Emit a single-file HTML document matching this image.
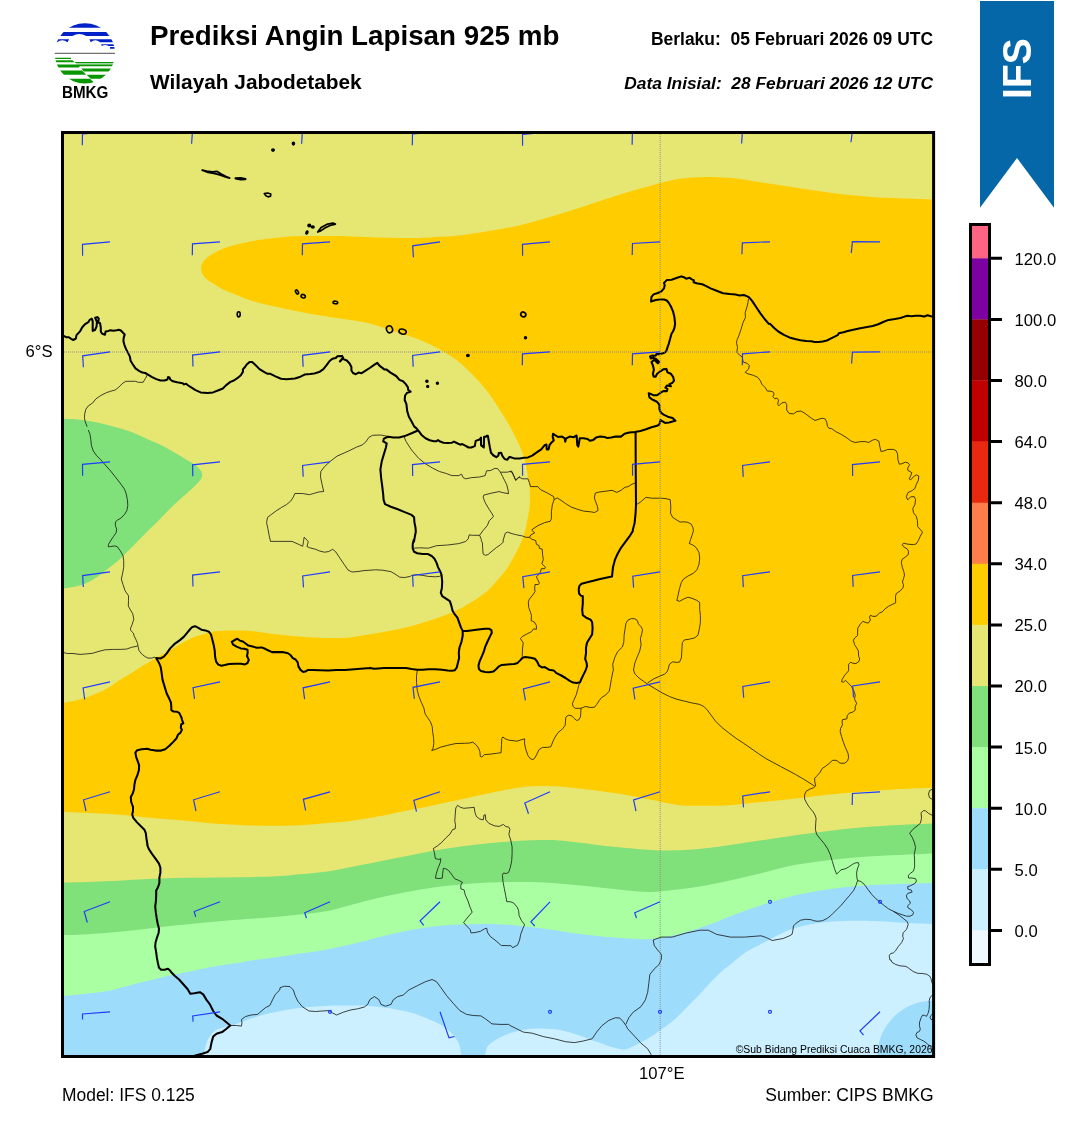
<!DOCTYPE html>
<html lang="id"><head><meta charset="utf-8"><title>Prediksi Angin Lapisan 925 mb</title>
<style>html,body{margin:0;padding:0;background:#fff;overflow:hidden}svg{display:block}text{font-family:"Liberation Sans",sans-serif;white-space:pre}</style></head><body>
<svg width="1081" height="1128" viewBox="0 0 1081 1128">
<rect width="1081" height="1128" fill="#fff"/>
<g transform="translate(40 10) scale(0.0925)">
<defs><clipPath id="lc"><circle cx="485" cy="468" r="326"/></clipPath></defs>
<g clip-path="url(#lc)">
<path fill="#0020c8" d="M100 100H900V192H100Z"/>
<path fill="#0020c8" d="M100 237H900V282H500Q425 235 350 282H100Z"/>
<path fill="#0020c8" d="M100 315H315L298 348Q240 305 185 348H100Z"/>
<path fill="#0020c8" d="M535 315H900V348H650Q595 305 548 348Z"/>
<path fill="#0020c8" d="M662 370H900V390H740Q705 365 668 390Z"/>
<path fill="#0020c8" d="M757 400H900V420H757Z"/>
<path fill="#707070" d="M100 462H900V475H100Z"/>
<path fill="#089600" d="M100 515H335V529H100Z"/>
<path fill="#089600" d="M100 543H350L375 565H100Z"/>
<path fill="#089600" d="M375 562H900V575H388Z"/>
<path fill="#9ad29a" d="M388 575H900V590H400Z"/>
<path fill="#089600" d="M100 590H900V608H430L420 622H100Z"/>
<path fill="#089600" d="M445 632H900V665H475Z"/>
<path fill="#089600" d="M100 655H455L500 700H100Z"/>
<path fill="#089600" d="M505 700H900V742H548Z"/>
<path fill="#089600" d="M100 742H540L582 780L560 800H100Z"/>
</g></g>
<text x="62" y="97.8" font-weight="bold" font-size="16.2" textLength="46.4" lengthAdjust="spacingAndGlyphs">BMKG</text>
<text x="150" y="45.1" font-weight="bold" font-size="27.78">Prediksi Angin Lapisan 925 mb</text>
<text x="150" y="88.8" font-weight="bold" font-size="20.83">Wilayah Jabodetabek</text>
<text x="933" y="45.2" text-anchor="end" font-weight="bold" font-size="17.44" xml:space="preserve">Berlaku:  05 Februari 2026 09 UTC</text>
<text x="933" y="88.7" text-anchor="end" font-weight="bold" font-style="italic" font-size="17.36" xml:space="preserve">Data Inisial:  28 Februari 2026 12 UTC</text>
<path d="M980 1H1054V207.8L1017 158L980 207.8Z" fill="#0667a8"/>
<text transform="translate(1031.2 98.9) rotate(-90)" font-weight="bold" font-size="40.3" textLength="60.6" lengthAdjust="spacingAndGlyphs" fill="#fff">IFS</text>
<rect x="970.5" y="224.5" width="19" height="34.1" fill="#ff6482"/>
<rect x="970.5" y="258.3" width="19" height="61.4" fill="#7d00a0"/>
<rect x="970.5" y="319.4" width="19" height="61.4" fill="#960000"/>
<rect x="970.5" y="380.5" width="19" height="61.4" fill="#c00000"/>
<rect x="970.5" y="441.6" width="19" height="61.4" fill="#e8280f"/>
<rect x="970.5" y="502.7" width="19" height="61.4" fill="#ff7d4b"/>
<rect x="970.5" y="563.8" width="19" height="61.4" fill="#ffcc00"/>
<rect x="970.5" y="624.9" width="19" height="61.4" fill="#e6e673"/>
<rect x="970.5" y="686" width="19" height="61.4" fill="#80e07a"/>
<rect x="970.5" y="747.1" width="19" height="61.4" fill="#aaffa3"/>
<rect x="970.5" y="808.2" width="19" height="61.4" fill="#9edcfc"/>
<rect x="970.5" y="869.3" width="19" height="61.4" fill="#ccf0ff"/>
<rect x="970.5" y="930.4" width="19" height="34.4" fill="#f0f8ff"/>
<rect x="970.5" y="224.5" width="19" height="740" fill="none" stroke="#000" stroke-width="3"/>
<path d="M989.5 258.3H1002M989.5 319.4H1002M989.5 380.5H1002M989.5 441.6H1002M989.5 502.7H1002M989.5 563.8H1002M989.5 624.9H1002M989.5 686H1002M989.5 747.1H1002M989.5 808.2H1002M989.5 869.3H1002M989.5 930.4H1002" stroke="#000" stroke-width="3" fill="none"/>
<g font-size="16.67" fill="#000">
<text x="1014.6" y="264.7">120.0</text>
<text x="1014.6" y="325.8">100.0</text>
<text x="1014.6" y="386.9">80.0</text>
<text x="1014.6" y="448">64.0</text>
<text x="1014.6" y="509.1">48.0</text>
<text x="1014.6" y="570.2">34.0</text>
<text x="1014.6" y="631.3">25.0</text>
<text x="1014.6" y="692.4">20.0</text>
<text x="1014.6" y="753.5">15.0</text>
<text x="1014.6" y="814.6">10.0</text>
<text x="1014.6" y="875.7">5.0</text>
<text x="1014.6" y="936.8">0.0</text>
</g>
<defs><clipPath id="mc"><rect x="62.5" y="132.5" width="871.1" height="924"/></clipPath></defs>
<g clip-path="url(#mc)">
<rect x="60" y="130" width="877" height="930" fill="#e6e673"/>
<path d="M224.1 290C222.4 289 216.9 285.8 214 284C211.1 282.2 208.6 281 206.7 279.3C204.8 277.6 203.5 275.9 202.6 274C201.7 272.1 201 270.1 201.1 268.1C201.2 266.1 201.6 264 203.2 261.8C204.8 259.6 207.2 257.2 210.8 254.9C214.4 252.6 218.9 250 224.7 247.9C230.5 245.8 238.6 243.9 245.5 242.4C252.4 240.9 259.4 239.8 266.3 238.9C273.2 238 280.2 237.3 287.1 236.8C294 236.3 299.1 236.2 307.9 236.1C316.7 236 333 236 340 236.1C347 236.2 339.1 236.1 350 236.4C360.9 236.7 391.7 237.9 405.5 238C419.3 238.1 423.8 237.7 433 237.2C442.2 236.7 451.7 236.2 461 235.2C470.3 234.2 479.6 232.5 488.8 231C498.1 229.5 507.2 228.1 516.5 226C525.8 223.9 535 221.1 544.3 218.5C553.5 215.9 562.8 213.1 572 210.2C581.2 207.3 590.5 204 599.8 201C609 198 619.1 194.7 627.5 192.2C635.9 189.7 641.6 188.2 650 186C658.4 183.8 668.5 180.6 677.8 179.1C687 177.6 696.2 177 705.5 176.9C714.8 176.8 724 177.4 733.3 178.3C742.5 179.2 751.8 181 761 182.4C770.2 183.8 779.5 185.2 788.8 186.6C798 188 807.2 189.5 816.5 190.8C825.8 192.1 835 193.4 844.3 194.4C853.5 195.4 862.8 196.2 872 196.9C881.2 197.6 889.1 197.9 899.8 198.3C910.5 198.8 930 199.4 936 199.6L936 787.6C930 787.8 910.5 788.4 899.8 789C889.1 789.6 881.2 790.3 872 791C862.8 791.7 853.5 792.4 844.3 793.2C835 794 825.8 795 816.5 796C807.2 797 798 798.3 788.8 799.3C779.5 800.3 770.2 801.2 761 802.1C751.8 803 742.5 804.3 733.3 804.9C724 805.5 714.8 805.7 705.5 805.7C696.2 805.7 687 805.9 677.8 804.9C668.5 803.9 658.4 801.2 650 799.6C641.6 798 635.9 796.6 627.5 795.2C619.1 793.8 609 792.2 599.8 791C590.5 789.8 581.2 788.5 572 787.7C562.8 786.9 552.3 786.1 544.3 786C536.3 785.9 530.5 786.3 523.9 787C517.3 787.7 511.6 788.8 504.8 790C498 791.2 491.5 792.7 483.3 794.4C475.1 796.1 464.8 798.4 455.5 800.4C446.2 802.4 437.1 804.5 427.8 806.4C418.6 808.3 408.3 810.2 400 811.9C391.7 813.6 386.1 815 377.8 816.5C369.5 818 358.4 819.9 350 821C341.6 822.1 335.9 822.3 327.5 823C319.1 823.7 309.1 824.8 299.8 825.2C290.6 825.7 281.2 825.7 272 825.7C262.8 825.7 253.6 825.5 244.3 825.2C235.1 824.9 225.8 824.5 216.5 823.8C207.2 823.1 198.1 821.8 188.8 821C179.6 820.2 170.2 819.6 161 818.8C151.8 818 142.6 816.8 133.3 816C124.1 815.2 117.7 814.5 105.5 813.8C93.3 813.1 67.6 812 60 811.6L60 703.5C63.9 702.7 75.7 700.9 83.3 698.5C90.9 696.1 99.5 692.2 105.5 689.2C111.5 686.2 114.8 683.2 119.4 680.3C124 677.4 130.2 674 133.3 672C136.5 670 135.2 670.5 138.3 668.5C141.4 666.5 147.5 662.9 152.1 660.2C156.7 657.6 161.4 655.3 166 652.6C170.6 649.9 175.3 646.8 179.9 644.2C184.5 641.7 189.6 639 193.8 637.3C198 635.6 201.8 634.7 205 633.8C208.2 632.9 210 632.2 213 631.7C216 631.2 218.9 631 222.8 630.8C226.7 630.6 232 630.6 236.6 630.6C241.2 630.6 245.9 630.6 250.5 631C255.1 631.4 259.8 632.1 264.4 632.7C269 633.3 273.7 634 278.3 634.5C282.9 635 287.5 635.5 292.1 635.9C296.7 636.3 301.4 636.7 306 637C310.6 637.3 315.3 637.5 319.9 637.7C324.5 637.9 328.8 638 333.8 638C338.8 638 342.7 638.2 350 637.4C357.3 636.6 368.6 634.7 377.8 633.1C387.1 631.5 397.6 629.5 405.5 627.6C413.4 625.8 418.9 623.9 424.9 622C430.9 620.1 435.6 618.8 441.6 616.5C447.6 614.2 454.1 611.9 461 608.2C467.9 604.5 477.2 598.9 483.2 594.3C489.2 589.7 492.9 585 497.1 580.4C501.3 575.8 503.9 573.4 508.2 566.5C512.5 559.6 519.1 548 522.6 538.8C526.1 529.5 527.8 518 529 511C530.2 504.1 529.9 501.7 529.9 497.1C529.9 492.5 530.1 490.2 529 483.3C527.9 476.4 526.4 464.4 523.5 455.5C520.6 446.6 515.3 436.8 511.9 430C508.5 423.2 506 419.9 503 415C500 410.1 496.9 405.1 493.9 400.7C490.9 396.3 488.4 392.6 485 388.5C481.6 384.4 478 380.3 473.8 376C469.6 371.7 464.5 366.6 459.9 362.8C455.3 359 450.6 356 446 353.1C441.4 350.2 436.7 347.8 432.1 345.5C427.5 343.2 422.9 341.2 418.3 339.3C413.7 337.4 409 335.9 404.4 334.4C399.8 332.9 395.1 331.7 390.5 330.2C385.9 328.7 381.2 326.8 376.6 325.4C372 324 367.4 322.8 362.8 321.9C358.2 321 353.7 320.5 348.9 319.8C344.1 319.1 340.9 318.6 333.8 317.5C326.7 316.4 315.2 314.6 306 312.9C296.8 311.2 287.6 309.4 278.3 307.3C269.1 305.2 257.6 302.5 250.5 300.4C243.4 298.3 238.4 295.7 236 294.8Z" fill="#ffcc00"/>
<path d="M60 418.8C63 418.9 72.5 418.9 77.8 419.4C83.1 419.9 87 420.8 91.6 421.6C96.2 422.4 100.9 423.3 105.5 424.4C110.1 425.5 114.8 426.9 119.4 428.3C124 429.7 128.7 431 133.3 432.8C137.9 434.6 142.5 436.9 147.1 438.9C151.7 440.9 156.4 442.7 161 445C165.6 447.3 170.3 450 174.9 452.7C179.5 455.4 185.1 458.7 188.8 461C192.5 463.3 194.9 464.5 197.1 466.6C199.3 468.7 201.6 471.2 202.1 473.5C202.6 475.8 202.1 477.5 199.9 480.5C197.7 483.5 193 487.7 188.8 491.6C184.6 495.5 179.5 499.6 174.9 504C170.3 508.4 165.6 513.4 161 518C156.4 522.6 151.7 527.2 147.1 531.8C142.5 536.4 137.9 541.1 133.3 545.7C128.7 550.3 124 555.4 119.4 559.6C114.8 563.8 110.1 567.2 105.5 570.7C100.9 574.2 96.2 577.9 91.6 580.4C87 582.9 83.1 584.6 77.8 586C72.5 587.4 63 588.4 60 588.9Z" fill="#80e07a"/>
<path d="M60 882.7C67.6 882.5 88.7 881.9 105.5 881.2C122.3 880.5 142.5 879 161 878.4C179.5 877.8 198 877.9 216.5 877.6C235 877.3 258.1 877 272 876.5C285.9 876 290.6 875.1 299.8 874.3C309.1 873.5 319.1 872.7 327.5 871.5C335.9 870.3 341.6 868.9 350 867.3C358.4 865.7 368.6 863.6 377.8 861.8C387.1 859.9 396.2 858.1 405.5 856.2C414.8 854.4 424.1 852.3 433.3 850.7C442.6 849.1 451.8 847.8 461 846.5C470.2 845.2 479.6 844.1 488.8 843.2C498.1 842.3 507.2 841.5 516.5 841C525.8 840.5 537 840.2 544.3 840.1C551.5 840 551.8 839.9 560 840.6C568.2 841.3 582.2 843.1 593.3 844.4C604.4 845.6 615.5 847.1 626.6 848.1C637.7 849.1 648.9 850.2 660 850.4C671.1 850.6 682.1 850.3 693.2 849.5C704.3 848.7 715.4 847 726.5 845.5C737.6 844 749.4 842.1 759.8 840.6C770.2 839.1 779.3 837.6 788.8 836.3C798.2 835 807.2 833.8 816.5 832.6C825.8 831.4 835 830 844.3 829C853.5 828 862.8 827.2 872 826.5C881.2 825.8 889.1 825.4 899.8 824.9C910.5 824.4 930 823.6 936 823.4L940 1062L56 1062Z" fill="#80e07a"/>
<path d="M60 934.9C63 934.9 70.2 935.1 77.8 934.8C85.4 934.5 96.2 933.9 105.5 933.1C114.8 932.4 124.1 931.3 133.3 930.3C142.6 929.3 151.8 928 161 927C170.2 926 179.6 925.1 188.8 924.2C198.1 923.3 207.2 922.3 216.5 921.5C225.8 920.7 235.1 919.9 244.3 919.2C253.6 918.5 262.8 918.1 272 917.3C281.2 916.5 290.6 915.6 299.8 914.5C309.1 913.4 319.1 912.4 327.5 910.9C335.9 909.4 341.6 907.4 350 905.2C358.4 903 368.6 900 377.8 897.9C387.1 895.8 396.2 894 405.5 892.3C414.8 890.6 424.1 888.9 433.3 887.6C442.6 886.3 451.8 885.3 461 884.5C470.2 883.7 479.6 883 488.8 882.6C498.1 882.2 507.2 882 516.5 882C525.8 882 535 882.1 544.3 882.6C553.5 883.1 562.8 884 572 884.8C581.2 885.6 590.5 886.7 599.8 887.6C609 888.5 619.1 889.7 627.5 890.4C635.9 891.1 641.6 892 650 891.9C658.4 891.8 668.5 890.6 677.8 889.5C687 888.4 696.2 887 705.5 885.4C714.8 883.8 724 881.8 733.3 879.8C742.5 877.8 751.8 875.6 761 873.3C770.2 871 779.5 868.1 788.8 866.2C798 864.3 807.2 863.1 816.5 861.8C825.8 860.5 835 859.4 844.3 858.5C853.5 857.6 862.8 856.8 872 856.2C881.2 855.6 889.1 855.4 899.8 854.9C910.5 854.4 930 853.6 936 853.4L940 1062L56 1062Z" fill="#aaffa3"/>
<path d="M60 996.5C67.6 995.6 93.3 993.3 105.5 991.3C117.7 989.3 124.1 986.6 133.3 984.3C142.6 982 151.8 979.5 161 977.4C170.2 975.3 180.5 973.5 188.8 971.8C197.1 970.1 202.7 968.5 211 967C219.3 965.5 232.3 963.8 238.8 962.8C245.3 961.8 243.1 961.7 250 960.7C256.9 959.7 271.3 957.9 280 956.7C288.7 955.5 294.6 954.4 302 953.3C309.4 952.2 317 951.3 324.4 950C331.8 948.7 339.2 947 346.6 945.3C354 943.6 363.6 941.3 368.8 940C374 938.7 371.7 939 377.8 937.5C383.9 936 396.2 932.8 405.5 931C414.8 929.2 424.1 927.7 433.3 926.6C442.6 925.5 451.8 925 461 924.6C470.2 924.2 479.6 924 488.8 924.1C498.1 924.2 507.2 924.7 516.5 925.5C525.8 926.3 535 927.5 544.3 928.8C553.5 930 562.8 931.8 572 933C581.2 934.2 590.5 935.4 599.8 936.3C609 937.2 619.1 938 627.5 938.5C635.9 939 641.6 939.7 650 939C658.4 938.3 668.5 936.6 677.8 934.4C687 932.2 696.2 929.2 705.5 926C714.8 922.8 724 918.4 733.3 914.9C742.5 911.4 751.8 908.2 761 905.2C770.2 902.2 779.5 899.2 788.8 896.9C798 894.6 807.2 892.9 816.5 891.3C825.8 889.7 835 888.2 844.3 887.2C853.5 886.2 862.8 885.5 872 885C881.2 884.5 889.1 884.2 899.8 883.9C910.5 883.6 930 883.1 936 883L940 1062L56 1062Z" fill="#9edcfc"/>
<path d="M203 1060C203.4 1057.8 204.2 1050.6 205.4 1046.6C206.6 1042.6 207.9 1038.9 210 1036C212.1 1033.1 214.3 1030.8 218 1029C221.7 1027.2 227.8 1026.8 232 1025.5C236.2 1024.2 240.2 1022.4 243.2 1021.3C246.2 1020.2 246.9 1019.8 249.8 1018.8C252.8 1017.8 257.2 1016.5 260.9 1015.5C264.6 1014.5 267.1 1013.8 272 1012.8C276.9 1011.8 285 1010.1 290 1009.3C295 1008.4 296.5 1008.3 302.2 1007.7C307.9 1007.1 317 1006.3 324.4 1005.9C331.8 1005.5 339.2 1005.5 346.6 1005.5C354 1005.5 361.4 1005.4 368.8 1005.9C376.2 1006.4 383.6 1007.2 391 1008.4C398.4 1009.6 405.8 1011 413.2 1013.3C420.6 1015.6 429.8 1019.5 435.4 1022.1C440.9 1024.7 443.2 1026.2 446.5 1028.8C449.8 1031.4 453.2 1034.7 455.4 1037.7C457.6 1040.7 458.8 1042.9 459.8 1046.6C460.8 1050.3 461.3 1057.8 461.6 1060Z" fill="#ccf0ff"/>
<path d="M484.7 1060C485 1058.1 485.5 1051.6 486.5 1048.8C487.5 1046 488.3 1045.2 490.9 1043.2C493.5 1041.2 498 1038.5 502 1036.6C506 1034.7 510 1033.1 515 1031.8C520 1030.5 525.6 1029.2 532.2 1028.8C538.8 1028.4 547 1028.4 554.4 1029.3C561.8 1030.2 569.2 1032.2 576.6 1034.4C584 1036.6 593.2 1040.6 598.8 1042.6C604.3 1044.6 606.2 1045.5 609.9 1046.6C613.6 1047.7 618 1048.8 621 1049.2C624 1049.6 624 1050.2 627.7 1048.8C631.4 1047.4 638.8 1043.4 643.2 1041C647.6 1038.6 650.6 1036.8 654.3 1034.4C658 1032 661.7 1029.4 665.4 1026.6C669.1 1023.8 672.8 1021 676.5 1017.7C680.2 1014.4 683.9 1010.3 687.6 1006.6C691.3 1002.9 695 999.4 698.7 995.5C702.4 991.6 706.1 987.2 709.8 983.3C713.5 979.4 717.2 975.5 720.9 972.2C724.6 968.9 728.1 966.4 732 963.3C735.9 960.1 739.6 956.5 744.4 953.3C749.2 950.1 753.6 948 761 944.1C768.4 940.2 779.5 933.7 788.8 930.2C798 926.7 807.2 924.8 816.5 923.3C825.8 921.8 835 921.4 844.3 921C853.5 920.6 862.8 920.8 872 921C881.2 921.2 889.1 921.9 899.8 922.4C910.5 922.9 930 923.9 936 924.2L940 1062Z" fill="#ccf0ff"/>
<path d="M877.4 1062C877.5 1060.7 877.5 1056.8 877.7 1054C877.9 1051.2 878.2 1047.8 878.6 1045.1C879 1042.4 879.5 1040.5 880.4 1038C881.3 1035.5 882.4 1032.8 883.9 1030.1C885.4 1027.4 887.4 1024.6 889.3 1022.1C891.2 1019.6 893.3 1017.1 895.5 1015C897.7 1012.9 900.2 1011.2 902.6 1009.7C905 1008.2 907.3 1006.8 909.7 1005.7C912.1 1004.6 914.4 1003.7 916.8 1003C919.2 1002.3 920.7 1001.9 923.9 1001.5C927.1 1001.1 934 1000.6 936 1000.4L940 1062Z" fill="#9edcfc"/>
<path d="M147.3 374.9L145.2 378.8L143.1 382.3L138.3 382.3L135.5 381.3L125.8 381.3L123 383L118.8 387.1L115.4 389.9L110.5 391.3L106.3 392.7L100.8 395.5L95.9 398.9L92.5 403.1L88.3 405.9L85.8 409.3L84.8 413.5L84.4 417.7L85.2 421.8L87.2 426.7M404 436.4L406.1 441.6L411.6 450L418.6 458.3L425.5 463.8L432.4 468L439.4 471.5L446.3 473.5L451.9 475.6L458.8 475.6L461.6 474.2L463.2 477.7L465.7 478.8L471.3 477.7L479.6 477L485.2 475.6L486.6 470.8L490.7 470.5L494.9 468.3L497.7 468.7L500.4 472.2L502.5 476.3L504.6 480.5L506.7 484.6L508.1 490.2L508.5 493.7L503.2 492.7L499 491.6L492.1 493L483.8 495.1L483.1 497.1L485.2 502.7L489.3 509.6L492.1 513.8L493.5 516.6L489.3 520.7L487.3 525.6L483.1 530.4L479.6 535.3L472.7 535.3L469.2 534.9L468.2 538.8L465.7 541.5L458.8 543.6L447.7 545L436.6 545.7L428.3 548.2L420 547.8L413.7 548.2M500.4 472.2L507.4 472.2L511.5 471L513.6 474.9L515.7 480.5L520 476.3M510 471.6L512.1 472.3L513.5 475.7L515.6 479.9L519 477.1L522.5 478.8L528 478.8L529.4 482.7L530.5 486.6L537.8 486.6L540.5 489.6L547.5 493.1L553.7 496.6L554.1 499.6L552.3 504.9L551.4 511.8L551.4 518.8L550.2 521.3L544.7 522.6L537.8 525.7L531.5 530M554.1 499.6L557.2 497.9L560 499.6L565.5 503.5L571.1 507L576.6 509L583.5 511.1L590.5 511.8L594.6 512.5L598.1 510.4L597.4 506.3L595.3 500.7L594.4 497.9L595.3 493.1L598.8 492.1L607.1 491L612 490.3L616.8 492.4L621 490.3L625.2 487.1L627.9 486.8L632.1 484.1L635.6 483M636 504.9L640.4 502.1L646 497.3L651.5 498.2L660 498.2M748.6 298.9L747.3 305.8L745.2 312.7L745.4 317.6L743.1 322.4L741 329.4L738.9 335.6L736.8 340.5L736.6 343.3L737.5 347.4L736.8 352.3L739.6 355.1L742.4 357.1L743.1 362L747.3 363.4L749.3 365.5L748.6 368.9L745.2 372.4L747.9 373.8L753.5 375.4L757.7 377.3L760.4 380.7L761.8 384.2L765.3 387.7L767.4 391.1L770 391.1L772.8 391.8L774.2 393.9L772.8 396.7L774.9 398.8L776.9 398.1L778.6 400.1L777.6 404.3L779 405.7L781.8 402.9L785.3 402.2L786.7 404.3L786.7 410L788.6 412.9L790 413.6L793.5 413.9L796.9 411.5L801.1 411.1L805.3 413.6L810.8 417.8L815 420.5L819.1 419.1L822.6 418.2L825.4 419.1L826.8 422.6L827.5 426.4L828.9 428.2L831.6 428.6L835.8 431.6L841.3 434.4L846.9 437.9L851.1 441.1L855.2 442.5L860.8 441.6L865.6 441.6L868.4 442.5L872.6 440.2L875.3 439.3L878.8 441.1L879.9 446.9L880.9 451.3L883.7 451.1L887.8 449.4L893.4 449.4L896.2 450.8L897.5 453.8L898 460.1L899.3 464.2L901.7 463.8L905.2 462.2L907.9 462.8L909.6 464.7L907.9 467.7L907.7 470.2L911.8 472.6L910.7 476L909.1 478.8L910.7 479.9L913.5 476.7L916.3 474.9L918.8 476L918.4 480.2L916.3 484.4L914.9 488.5L912.1 490.6L907.9 492.7L906.3 496.8L907.7 499.9L910.7 496.8L914.2 496.6L915.6 499.6L914.9 504.5L912.8 508.6L913.5 512.8L916.3 516.3L917.4 520.4L917.7 526.7L920.4 529.5L922.5 532.2L920.2 536.4L918.4 540.4L916.3 543.9L913.5 544.6L907.9 544.2L903.8 543.2L902.1 544.6L903.8 546.9L907.3 549.1L908.6 551.5L908.2 554.7L905.2 557.1L902.1 559.4L901.3 562.6L902.4 567.5L903.8 571.6L904.5 575.1L903.5 578.6L902.4 582L903.5 584.8L903.1 587.6L900.3 590.8L896.2 593.6L895.5 596.6L895.7 602.8L892.7 604.2L888.5 606.3L885.1 608.8L882.3 611.9L879.5 613L876 616.3L872.6 616.3L870.5 615.3L869.4 617.1L870.5 619.9L868.4 623L866.3 622.7L862.8 621.3L860.1 624.4L857.7 628.5L857.6 635.5L854.5 638.2L853.4 640.3L854.5 644.5L856.6 647.9L858.3 650.7L858.7 656.3L859.7 659L858.7 661.8L855.9 663.5L852.4 663.2L850.8 662.1L848.6 664.3L848.6 670.8L845.5 674.3L844.1 676.2L842 679.7L841.6 681.8L843.4 682.2L845.5 680.4L848.3 683.2L851.7 686.7L853.8 690.8L855.2 695L854.5 699.1L856.6 703.3L855.2 706.8L855.2 710.2L853.1 711.9L849 713.3L847.2 715.8L846.9 718.8L842.5 719.7L842 722L842.5 724.8L840.6 728.3L840.2 731.7L841.6 736.6L843.4 742.2L845.5 747.7L848 753.3L848.6 757.4L847.6 760.9L844.8 763.2L840 763.2L837.2 760.9L835.1 760.2L832.3 760.5L828.9 763.7L825.4 766.4L822.2 768.5L819.8 772.7L817.1 775.7L814.7 778.2L814.7 781L815.7 785.9L813.6 787.7L809.4 789.3L806 791.4L804.6 794.9L804.6 799L806.7 803.2L809.4 807.4L812.9 811.5L815 815L816.1 818.3L815.7 823.9L815.4 829.4L816.6 834.3L819.8 838.4L824 843.3L827.7 848.9L830.2 854.4L832.3 861.3L834.4 868.3L836.5 874.1L839.3 871.7L841.1 869.7L844.8 869L848.3 867.2L852.4 864.4L855.9 862.7L858.3 862.7L859 864.8L857.3 869L856.6 873.1L856.9 878L857.6 880.5L855.9 885.6L853.6 890.5L849.7 895.3L845.5 900.2L841.3 905.1L836.5 909.9L831.6 914.8L827.5 918.2L822.6 920.7L817.8 921.3L813.6 920.7L810.8 919.6L805.3 919.3L800.4 920.3L796.2 923.1L793.5 925.9L792.8 930.7L792.1 934.2L790 935.6M934.3 789.1L932.2 789.3L929.5 790.7L928.5 794.2L929.5 797.7L932.2 799.3L934.3 799.7M857.6 880.5L860.8 881.5L864.2 884.2L867.7 889.1L871.9 894.6L876 898.8L880.2 902.3L884.4 905.7L888.5 908.8L893.4 911.3L898.2 913.4L902.4 914.8L906.6 916.2L910 916.2L912.8 914.8L913.5 912.4L911.4 909.9L907.9 907.8L907.7 905.7L910.4 903.2L909.6 900.9L907.3 898.8L906.3 895.8L907.9 893.3L912.1 892.1L911.4 890.2L907.9 889.1L907.7 886.6L910.7 885.6L914.9 883.5L916.5 881L915.6 878.7L912.1 878L908.6 878L908.2 875.5L910.7 873.1L913.5 871.1L914.6 866.9L914.6 860L914.2 854.4L915.6 847.5L914.2 841.9L912.1 837.1L909.6 833.3L912.8 829.4L917 826L920.4 823.2L921.5 818.3L921.1 812.8L923.2 810.7L925.3 810.7L928.8 813.5L932.2 815.3L935 816.2M893.4 911.3L899.6 915.5L903.8 918.9L907.3 921.7L908.2 924.5L906.6 929.3L903.1 932.8L902.7 936.3L903.5 938.4L901.7 942.5L898.2 946.7L895.5 950.8L893.4 952.9L890.6 953.6L889.2 955.7L889.9 960L891 960L891.9 962.2L895.5 964.4L899.9 965.8L906.1 966.4L909.7 968.9L913.2 971.5L917.6 973.3L922.1 973.5L926.5 974.2L929.6 976L931 978.6L931.7 981.7L932.5 983.9M933.6 994.6L932 995.5L930.1 997.3L929.2 1000.8L929.4 1004.3L929 1009.7L928.1 1013.2L926.5 1016.3L924.7 1015.4L922.5 1015.2L921.2 1017.6L919.6 1022.1L919.4 1025.6L920.3 1029.2L919.4 1031.4L916.8 1032.7L915.9 1034.9L917.2 1038L920.3 1039.4L923.9 1041.2L927.4 1043.8L930.1 1046.5L932 1048.7L933.6 1050.5M933.6 1014.1L932 1014.5L930.5 1015.9L930.2 1017.6L931 1019.4L932.3 1019.9L933.6 1020M370 570.2L375.6 569.8L382.5 570.2L390.8 571.6L395 574L399.8 577.2L404.7 577.5L410.2 576.4L411.6 575.4L417.2 574.7L422.7 575.4L428.3 576.4L435.2 576.8L439.4 576.4L441 575.4M479.6 535.3L481.4 539.5L481 540L482.4 542.8L482.7 548.3L483.1 553.9L485.2 555.3L487.9 554.6L492.1 551.1L496.3 547.6L500.4 544.9L503.2 542.1L503.2 540.1L505.3 533.2L507.4 532.1L512.9 533.9L515.6 534.6L522.5 536L526 537.3L529.4 537.3M417.5 669.4L416.5 675.3L416.5 682.2L417.2 689.8L418.8 696.1L421.3 702.3L423.8 707.9L425.2 714.1L427.6 717.6L430.4 721.7L432.2 726.6L432.7 732.2L433.6 737.7L433.8 743.3L433.1 748.1L431.7 750.5L435.2 749.5L440.8 747.1L447.7 745.3L456 743.5L464.4 743.3L469.9 743L472.7 742.1L476.2 744.9L478.5 748.1L479.9 751.6L480.3 756.4L481.7 757.1L484.5 754.6L490.7 754.1L497.7 753.2L501.1 752.7L501.5 744.6L501.8 738.4L502.9 737L505.3 738.8L508.8 740.2L514.3 740.8L516.9 741.2L521.1 739.8L524.6 738.8L524.6 744L526 750.2L528 755.7L530.5 758.8L532.9 759.6L535 757.8L537.1 753.7L539.1 749.5L542.6 747.4L547.5 747.4L550.9 746.7L553 741.2L555.1 737L557.9 732.8L562.7 728.7L565.2 725.2L565.5 721.1L565.8 717.2L568.3 715.2L571.7 715.8L574.1 718.3L576.6 720.4L578.7 719.9L580.5 716.9L580.8 712.7L581 708.3M531.9 530.4L534.7 532.8L530.8 535L529.4 537.3L532.2 539.4L535.7 540.5L536.4 544.3L539.1 545.7L539.4 548.4L542.2 549.1L542.6 554.7L543.3 559.5L541.9 563.7L545.4 567.2L544.7 568.6L541.2 568.8L540.5 572L538.4 574.8L536.4 576.9L537.8 579.7L539.4 583.1L538.4 584.5L535 584.5L534.7 588L535 591.5L532.9 594.9L529.4 599.1L528.3 601.9L528.7 607.4L530.5 612.3L531.5 615.7L531.1 620.6L534.3 622L536.4 625.5L536.4 629.3L533.6 628.9L531.5 631.7L526.7 634.1L522.5 636.3L520.4 638.6L523.2 642.8L522.5 649L522.2 656.7M579.4 682.9L578 688.4L576.3 694.7L573.8 700.2L572.4 703.7L573.1 706.5L575.2 708.3L580.8 708.3L585.6 706.5L590.5 707.5L594.6 707.2L596.7 704.4L599.5 700.2L601.6 697.5L605.7 695L609.2 691.2L610.2 686.4L611.3 679.4L613 671.1L613.4 670L612.7 664.3L614.8 657.4L617.5 651.8L622.4 647L623.8 642.1L624.1 635.2L625.2 628.2L625.9 623.4L627.9 620.2L631.4 618.5L634.9 618.8L637.4 620.6L638.4 623.8L641.1 626.8L642.5 629.6L641.8 633.8L640.4 638.6L641.1 644.9L639.7 651.1L637 657.4L634.9 662.9L633.5 670L633.5 669.7L634.9 673.9L639 678L643.9 681.5L647.4 684.1L654.8 688.5L662.2 692.9L669.6 696.6L677 699.3L684.4 701.1L691.8 702.9L699.2 704.3L703.6 706.3L707.3 710L711 715.1L715.5 721.1L721.4 727L728.8 732.9L736.2 738.4L743.6 743.3L751 748.4L758.4 753.6L765.8 758.5L773.2 762.5L780.6 766.5L788 770.4L795.4 774.4L802.7 778.6L814.8 786.2M660 498.2L665 498.5L670.2 499.6L670.8 506.8L670.5 513.1L672.6 517.3L676.1 519.6L680.2 522.1L684.4 521.8L687.9 522.4L691.3 524.2L693 527.7L693.4 531.1L692 535.3L690.6 539.5L689.3 543.6L689.3 543.5L692.7 544.9L696.2 547.6L699 552.5L699.7 558L699 564.3L696.9 569.8L693.4 573.3L687.9 576.1L683.7 578.9L681.4 582.3L679.5 588.6L678.2 594.8L676.8 600.4L679.5 601.3L683.7 599L687.9 597.2L692 598.3L696.9 600.4L699.7 602.4L699.7 609.4L700.4 615.6L700.4 622.6L699.4 628.8L698 635.1L694.8 637.8L689.3 639.2L684.4 639.9L682.3 642.7L681.9 649.6L681.4 657.9L679.5 662.1L676.1 662.4L672.6 661.8L669.4 664.2L668.4 668.4L667.1 671.8L664.3 674.3L660.1 676L653.9 678.8L647.6 682.9M88.3 430L90 434.2L90.8 439.7L91.4 445.3L93.2 450.8L96.6 455.7L100.8 459.8L105 464.7L110.5 470.9L116.1 477.9L120.9 484.1L124.4 489L126 493.1L127.4 499.4L127.8 505.6L126.9 510.5L124.4 514.6L120.9 518.1L117.4 520.2L115.4 521.9L115.4 525.7L116.7 529.2L116.1 532.7L113.3 536.8L110.5 541L108.4 544.5L108.4 546.8L110.5 546.6L114.7 545.9L117.4 546.8L120.2 550.7L123 555.6L123.7 560.4L123.7 567.4L122.3 574.9L121.3 579L123 584.6L125.1 590.8L128.5 595.7L128.5 600.5L128.3 606.1L130.6 610.2L132.7 613.7L133.8 619.3L132 624.8L130.6 628.3L130.6 630.4L133.4 633.1L134.1 635.9L136.2 640.1L137.6 643.5L138 646.3L139 650.5L141.7 654L145.2 656.7L148 658.1L152.1 658.1L154.2 657.1L156.3 658.1M60.6 652.1L63.6 652.6L67.5 653.5L73 653.5L80 654.4L85.5 654L92.5 653.3L98 651.6L105 649.8L113.3 649.4L120.2 649.4L126.5 649.1L131.3 647.4L137.6 646M388 436.4L381.1 435.1L380.1 435L372.5 435.3L369 437.3L365.6 442.2L362.1 445L356.6 447.1L348.2 451.2L337.1 456.1L330.2 461.4L324.6 466.5L320.8 471.6L320.5 476.9L322.1 484.5L323.7 491.5L319.1 491.9L313.5 493.5L309.4 494.7L302.4 493.5L294.8 493.5L293.4 497L290.6 501.2L286.5 504.6L281.6 507.4L276.1 510.9L271.2 514.6L267.5 517.4L266.6 522.7L267.8 528.2L269.1 535.2L270.5 541.4L278.9 541.4L292 541.4L298.3 544.2L302.7 546.3L303.6 540.7L304.1 537.3L306.3 539.3L308.3 541.8L306.9 546.5L309.4 547.7L315.6 549.3L319.8 551.1L324.6 552.2L328.8 551.5L332.7 549.3L335.7 551.8L339.9 558.1L344.1 564.3L348 570L352 572L358 571.5L364 570.6L370 570.2M230.3 1025.5L236.5 1025.5L241.4 1026.1L242 1022.6L241.4 1019.5L245.4 1016.6L250.9 1015L257.6 1014.4L262 1010.6L265.4 1007.7L269.8 1005.5L272.5 999.9L275.3 994.4L279.8 990L280 987.7L284.4 986.2L290 986.6L293.3 990L295.1 995.5L297.8 1001.1L302.2 1006.6L308.9 1011L315.5 1011.5L322.2 1011L328.8 1010.6L332.2 1012.8L336.6 1015L343.3 1012.2L351 1009.9L357.7 1008.8L364.4 1007L367.7 1004.4L369.9 999.5L374.4 996.6L378.8 999.5L381 1004.4L385.5 1006.2L391 1004.4L393.2 999.9L397.7 996.6L403.2 995.1L408.8 990L417.7 985.5L425.4 981.7L432.1 979.5L436.5 981.7L441 987.7L446.5 995.5L453.2 1003.3L459.8 1010.6L466.5 1014.4L473.2 1015.5L480.9 1015.9L485.4 1018.8L492 1023.9L499.8 1024.4L508.7 1024.4L510 1025.5L516.7 1028.8L523.3 1032.1L532.2 1033.2L543.3 1036.6L554.4 1038.8L565.5 1041.7L574.4 1042.6L583.3 1041L592.1 1038.8L596.6 1032.1L602.1 1025.5L608.8 1020.4L615.5 1017.7L619.9 1018.1L623.2 1021.7L625.9 1025.5L627.7 1028.8L634.3 1035.9L641 1043.2L647.7 1048.8L651 1054.3L652.1 1057.7M625.9 1024.4L628.8 1017.7L633.2 1012.2L641 1006.6L645.4 999.9L647.7 992.2L648.8 983.3L649.9 974.4L654.3 968.9L659.2 964.4L661.4 958.9L661.4 954.4L657.6 950L654.3 945.6L653.2 940L653.3 939.9L661.1 937.1L672.2 937.1L686.1 933L700 930.2L708.3 930.2L716.6 934.4L730.5 937.1L744.4 937.1L761 935.8L766.6 937.7L772.1 940.5L783.2 938.5L790 935.6M457.6 805.3L460.4 807.3L463.8 808.3L469.4 807.8L474.2 807.3L474.9 812.2L476.3 816.4L479.8 819.1L483.3 819.8L484 815L485.3 814.7L485.8 819.8L488.8 823.3L494.4 825.8L499.2 826.4L503.4 824.4L505.5 826.4L508.9 827.2L509.9 829.5L508.9 834.4L510.7 840L512.1 846.9L512.1 853.8L511.7 860.8L510.3 867.7L508.5 872.6L506.2 873.5L503.4 873L502.4 875.3L503 881.6L504.3 888.5L505.7 895.5L506.8 901.7L510.3 901.7L513.8 903.1L517.3 907.3L518.6 910.7L519.1 915.6L521.4 920.4L524.6 924.6L522.8 928.8L520.7 934.3L519.6 940L517.5 945.2L512.6 947.7L511 945.7L501.3 945.5L495 940L490.2 936.4L487.4 932.2L486.7 928.1L484.6 928.8L480.5 931.3L474.9 932.6L471 932.9L470.1 929.5L466.6 926L463.6 922.5L468 917L472.2 912.1L470.1 907.3L468 901L465.2 894.8L464.1 889.9L460.8 888.8L460.8 885.1L462.4 882.3L458.3 880.2L454.8 878.8L451.3 874L448.6 870.5L445.8 868.8L443.3 868.4L442.7 873.3L442.3 878.1L438.9 878.5L435.4 878.1L436.4 873.3L438.2 867.7L440.2 862.8L440.9 858.7L438.9 859.4L435.4 858.7L434.4 852.4L433.3 848.6L437.5 845.8L441.6 842.5L445.8 837.9L450 834.1L452.7 829.5L455.2 828.9L455.5 824.7L454.8 821.2L455.2 815L455.8 808L457.6 805.3" fill="none" stroke="#141414" stroke-width="0.8" stroke-linejoin="round"/>
<path d="M60.6 335.5L63.6 335.8L66.1 337.2L68.9 337.2L71 338.8L73.3 340L75.8 338.6L76.5 335.1L80 331.4L82.1 327.5L84.8 324.4L88.3 322.2L89.7 319.8L91.8 318.7L92.7 321.2L92.7 330.9L95 330L96.6 326.4L96.9 321.9L95.2 317.8L97.3 317.1L98.7 318.4L98.3 322.6L100.1 323.3L100.8 327.5L100.8 331.6L102.2 333.7L105 334.7L105.6 331.4L108.4 330.9L110.5 330.2L113.3 330.7L116.7 330.2L118.8 329.7L120.9 330.5L123 332.7L124.7 334.4L123.7 337.9L123.4 341.3L124.4 344.8L126 349L127.8 352.4L129.9 356.6L130.6 360.8L132.7 364.2L135.5 368.4L139 370.8L142.4 372.6L145.2 373L148 374.6L152.1 377.1L156.3 379.1L160.5 380.5L164.6 380.5L167.4 379.5L168.1 377.1L169.5 377.4L170.2 379.5L172.9 381.3L177.1 382.3L182.7 383.2L184 384.4L186.1 383.7L188.2 385.5L192.4 388.2L195.1 389.9M195 389.9L200.6 392.4L207.5 393L213 392.4L218.6 390.2L222.8 388.5L226.2 385.1L230.4 381.9L233.9 380.5L238 377.7L240.8 375.3L242.9 371.9L242.9 369.4L245 367L247 364.2L249.8 361.9L251.9 361.9L254.7 364.2L259.5 369.1L264.4 372.1L267.2 373.7L269.9 373.7L275.5 376.4L281 378.8L286.6 379.2L294.9 378.5L300.5 376.7L304.6 374.6L310.2 374.1L314.3 373.5L319.2 372.1L323.4 369.1L326.8 364.9L329.6 361L332.4 358.7L335.8 358L337.2 356.3L342.1 355.9L343.2 358L340 361.5M339.9 361.5L343 357.7L343.3 359.1L346.8 360.5L349.6 363.5L351.4 367L351.4 370.5L353 373L355.8 374.2L358.6 372.6L361.4 373.3L364.8 371.2L369.7 368L374.5 364.7L377.3 362.8L379.4 365.6L384.3 369.4L386.3 369.4L390.5 372.6L396.1 376L399.5 379.9L403 381.3L405.8 384.1L407.8 387.1L408.3 390.2L410.6 391.7L407.2 392.7L405.1 395.5L404.7 399.6M404.7 400L406.4 404.2L407.2 411.1L408.9 416.7L411.6 421.5L414.1 426.4L416.5 428.4L418.6 430.8L421.3 434.7L425.5 438.2L429.7 440.2L433.8 441.2L436.6 441.2L438 440L440.1 441.6L443.5 442.7L447.7 443L451.9 442.7L454 441.6L456.7 443L460.2 444.7L462.3 444.1L465.7 445.8L468.5 447.5L471.3 447.5L474.8 446.1L475.7 440.9L479.6 439.5L481 437.5L481 445.1L483.8 447.5L484.1 436.8L485.9 436.8L486.6 435.8L487.9 435.8L489.1 443L490 447.9L491 452.7L493.5 455.5L496.3 457.2L498.4 455.5L498.8 453L501.1 452.7L502.5 456.2L504.6 459L507.4 459.7L509.2 457.2M417.9 430.5L411.6 433.3L404.7 436.1L399.1 437.5L393.6 437.5L388 436.8L383.9 438.6L383.2 441.4L386.7 443.3L386 447.2L383.9 454.1L381.8 461.1L380.4 469.4L381.1 477.7L382.2 486L383.2 494.4L383.6 499.9L385 504.1L390.8 506.8L397.8 509.3L404.7 512.1L411.6 514.9L414.1 517.3L414.4 522.1L415.5 527.7L415.8 531.8L414.7 537.4L414 541.5M510 457L514.2 458.4L519.7 458.4L523.9 457.7L528 457.4L532.2 455.6L537.1 452.2L541.2 449.4L544.7 445.2L546.4 444.5L546.8 449.4L548.6 449.4L549.5 445.2L551.6 442.4L553.7 440.4L552.7 436.9L553 433.8L555.1 435.2L557.9 436.9L562 436.6L564.8 438.3L565.2 441.7L566.2 438.3L569.7 436.6L573.8 437.2L576.6 435.5L577.3 445.2L578.3 446.6L579.1 442.4L579.7 438.3L583.5 438.3L587.7 439L589.8 440.8L593.3 439.9L596 437.6L600.2 436.6L604.4 436.9L607.1 438L611.3 437.6L615.5 436.6L621 436.6L624.5 433.8L629.3 432.5L634.9 432L640.4 431.1L646 429.3L651.5 427.2L657.1 425.8L659.4 424.3L660.5 420.1L662.2 421.1L665 422.9L669.1 422.5L672.6 421.5L675.4 420.8L672.6 418L667.8 416.7L663.6 414.6L660.8 412.5L659.4 409L659.4 404.9L657.3 402.1L653.9 400M635.6 432L635.7 463.3L636 504.9L635.6 513.2L634.6 522.9L632.8 530M656.4 401.5L652.2 399.5L649.4 397.4L648.7 393.2L650.8 393.9L653.6 395.3L657.1 395.3L659.8 393.2L663.3 391.1L666.8 391.1L667.5 389L665.4 387.7L666.8 385.6L670.9 386.3L669.5 384.2L672.3 382.8L674.1 380.7L673 376.6L670.9 373.8L667.5 372.4L666.4 368.9L663.3 369.3L659.8 371.7L657.1 373.8L655.7 376.6L653.6 376.6L652.9 373.8L653.9 369.6L652.9 365.5L651.5 362L654.3 359.9L657.8 363.4L659.1 362L656.4 359.2L653.6 357.8L650.8 358.5L650.1 356.4L652.2 355.5L655.7 355.7L656.4 354.1L659.8 354.1L664 353L666.1 351.6L667.5 347.4L668.9 343.3L670.2 338.4L671.6 333.5L673 331.5L674.4 328L675.1 323.8L674.4 316.9L673 311.3L670.9 306.5L668.9 303L666.8 300.5L664 299.5L659.8 299.5L655.7 300L652.9 300.9L651.1 301.6L651.5 296.8L653.6 294.4L657.8 293L661.2 291.6L664 288.4L664.7 285L664 282.9L666.8 280.1L671.6 279.7L677.2 277.8L681.3 276.4L684.1 277.3L686.2 278.7L689.7 277.8L691.7 279.4L693.8 280.1L693.6 282.2L696.6 283.3L702.2 284.3L706.3 286.1L710.5 288.4L716 290.5L723 293.3L729.9 294L735.5 294.4L739.6 295.4L743.8 295L747.3 296.4L749.3 297.7L752.1 300.9L756.3 307.2L760.4 313.4L764.6 319L768.8 323.8M770 323.8L774.2 328L778.3 331.5L783.9 334.9L789.4 337.4L795 339.1L800.5 340.2L806.1 340.9L811.6 341.2L814.4 341.9L818.6 342.1L822.7 341.6L826.9 340.5L831.1 338.4L835.2 336.3L838 334.9L838.7 333.3L843.5 332.2L847.7 331L853.3 329.8L860.2 328.3L867.1 326.9L872.7 325.9L878.2 324.2L883.8 321.7L888.6 319.9L894.9 319L900.4 318L904.6 316.6L907.4 315.8L911.5 316.2L915.7 315.8L920 315.8L924 316.6L927.5 315.2L931 316.3L936 316.8M413.7 540L412.7 544.2L412.7 548.3L414.1 551.8L417.2 553.2L422.7 553.9L427.6 553.9L431.7 556L434.5 558.7L436.6 562.9L438 567.1L440.1 571.2L441.5 574.7L442.2 581.6L441.9 587.9L440.8 592.7L442.2 596.2L445.6 598.3L449.8 601.1L451.2 605.2L452.6 610.8L454.6 614.2L457.4 617.7L459.5 623.3L460.9 627.4L462.7 630.9L462.7 635.7L461.6 641.3L459.5 647.5L458.8 652.4L459.1 657.9L458.1 662.1L456.7 667.7L454.9 670.2L451.9 670.7L447.7 670.4L442.2 669.7L435.2 669.3L428.3 669.3L422.7 669.7L417.2 669.7L411.6 669L406.1 668.1L397.8 667.9L390.8 667.9L383.9 667.9L378.3 668.4L374.2 668.8L370 667.9M462.7 630.9L467.1 630.9L472.7 630.2L478.2 629.5L485.2 628.8L489.3 628.8L491.4 630.2L491.8 632.7L490 636.4L487.3 642L485.2 646.8L483.8 651.7L481.7 656.6L479.6 661.4L478.5 665.6L478.9 669L481 671.1L485.2 672.1L489.3 672.2L493.5 671.5L496.3 669L499 666.3L501.8 664.9L507.4 664.5L510 664.3L514.2 664L517.6 662.9L520.4 660.1L522.5 657.7L525.3 657.1L530.8 657.8L535 658.8L537.1 661.5L539.1 665.7L541.9 667.4L544.7 667.1L548.2 669.2L548.9 669.7L553.7 670.4L556.5 673.2L561.3 675.5L565.5 678L569.7 680.8L573.1 682.6L576.6 682.9L580.1 682.2L581.5 678.7L583.5 674.6L585.6 670.4L587 666.2L586.6 662.9L585.2 658.8L586 653.2L586 647.7L587 642.8L589.1 639.3L592.1 634.5L592.6 628.2L592.1 622L590.5 619.6L586.3 617.8L582.8 615.1L582.2 610.2L582.8 603.3L582.8 596.3L580.8 595.6L579.1 593.5L578.7 589.4L579.4 585.9L581.5 583.8L586.3 582.4L593.3 580.8L600.2 579L607.1 577.6L612 576.6L612.4 572.7L613 567.2L614.8 560.2L617.5 554L621 547.8L625.2 542.2L629.3 536.7L632.8 531.1M370 667.9L345 669.9L336.5 669.9L328.2 670.6L319.9 670.2L312.9 669.9L308.1 669.9L305.3 671.6L303.2 672L300.5 669.9L298.4 666.4L297.7 662.3L295.6 659.5L292.8 658.1L290.7 655.3L288 653.3L282.4 652.1L276.9 652.1L272 652.1L268.5 650.5L265.1 648.8L261.6 647.4L256.7 647.7L252.6 646.6L248.4 645.6L245.6 643.5L242.9 641.5L240.1 640.8L237.3 638.7L233.9 640.5L231.8 641.9L233.2 644.7L236.6 646.6L240.8 648.4L244.3 648.8L247.5 649.8L247.7 652.6L247 656L248.8 659.9L247.5 663L245 664.4L240.8 663.7L235.2 663.7L229 664.1L224.8 665.1L221.4 665.7L218.3 664.6L216.1 661.6L215.1 656.7L214.7 650.5L213.7 644.9L212.3 639.4L211 634.5L208.9 631.7L205.4 630.4L201.4 629.7L197.9 627.6L195.1 626.2L192.4 626.9L190.3 629L187.5 632.4L184 636.6L179.9 640.1L174.3 644.2L170.2 648.4L166.7 653.3L163.9 656.7L160.5 658.5L156.3 658.1L157 659.5L159.1 663L160.7 667.1L161.6 672.7L162.5 679.6L164.6 686.6L166.7 693.5L168.8 697.7L170.9 702.5L171.3 706.7L171.3 710.1L173.6 711.5L177.1 711.8L179.2 712.9L181.3 717.1L182.1 720.1L183.3 723.3L181.2 724.3L180.8 727.8L181.9 729.8L180.5 732.6L178 734.7L176.6 738.2L173.5 741.6L169.4 745.8L165.2 749.3L161.1 750.6L155.5 750.6L150.6 749.7L147.2 748.8L141.6 749.3L137.2 750.2L135.4 752.7L136.1 756.9L137.7 761.1L139.1 765.2L138.9 770.1L137.5 774.9L135.4 779.8L134.4 784.6L134 789.5L132.6 793.7L130.8 797.1L131.2 802L133 806.8L133 811L132.2 814.5L133.3 817.9L136.8 822.1L140.9 826.3L144.4 829.7L145.8 833.2L146.5 838.8L147.5 845L147.2 844.9L148.8 849L152 853.9L155.5 858.7L159 863.6L160.4 867.8L160.4 872.6L159.4 877.5L159.4 883L158 887.2L156.2 890.6L156.2 895.5L155.9 901.1L155.2 906.6L155.8 912.2L156.6 917.7L157.6 923.3L159 928.8L158.6 933L156.9 937.8L155.5 942.7L155.2 946.8L156.2 952.4L156.9 957.9L158 963.5L159 967.7L161.1 969.7L164.5 969.7L168 968.8L169.7 970.2L171.5 972.5L174.9 976L179.1 979.5L187.7 989.3L190.3 993.7L194.3 993.3L199.9 992.2L203.2 994.4L206.5 999.9L209.9 1004.4L213.2 1011L216.5 1015.5L222.1 1018.8L227.6 1023.3L230.3 1025.5L226.5 1028.8L222.1 1032.1L216.5 1033.7L213.2 1036.6L211.6 1042.1L210.3 1048.8L207.6 1052.1L202.1 1053.7L195.4 1055.4L189.9 1057.7" fill="none" stroke="#000" stroke-width="2.05" stroke-linejoin="round" stroke-linecap="round"/>
<ellipse cx="238.7" cy="314.3" rx="1.5" ry="2.6" transform="rotate(0 238.7 314.3)" fill="none" stroke="#000" stroke-width="1.6"/>
<ellipse cx="297.0" cy="292.0" rx="1.2" ry="2.2" transform="rotate(-30 297.0 292.0)" fill="none" stroke="#000" stroke-width="1.6"/>
<ellipse cx="303.2" cy="296.2" rx="2.2" ry="1.6" transform="rotate(20 303.2 296.2)" fill="none" stroke="#000" stroke-width="1.6"/>
<ellipse cx="335.4" cy="302.5" rx="2.4" ry="1.3" transform="rotate(10 335.4 302.5)" fill="none" stroke="#000" stroke-width="1.6"/>
<ellipse cx="389.5" cy="329.3" rx="3.0" ry="3.5" transform="rotate(-20 389.5 329.3)" fill="none" stroke="#000" stroke-width="1.6"/>
<ellipse cx="402.6" cy="331.6" rx="3.7" ry="2.4" transform="rotate(15 402.6 331.6)" fill="none" stroke="#000" stroke-width="1.6"/>
<ellipse cx="467.9" cy="355.5" rx="1.2" ry="0.9" transform="rotate(0 467.9 355.5)" fill="#000" stroke="#000" stroke-width="1.6"/>
<ellipse cx="426.9" cy="381.3" rx="1.0" ry="1.0" transform="rotate(0 426.9 381.3)" fill="#000" stroke="#000" stroke-width="1.6"/>
<ellipse cx="427.7" cy="386.4" rx="0.9" ry="0.9" transform="rotate(0 427.7 386.4)" fill="#000" stroke="#000" stroke-width="1.6"/>
<ellipse cx="437.4" cy="383.2" rx="0.9" ry="0.9" transform="rotate(0 437.4 383.2)" fill="#000" stroke="#000" stroke-width="1.6"/>
<ellipse cx="293.4" cy="143.6" rx="1.0" ry="1.3" transform="rotate(0 293.4 143.6)" fill="#000" stroke="#000" stroke-width="1.6"/>
<ellipse cx="273.0" cy="150.1" rx="1.2" ry="1.0" transform="rotate(0 273.0 150.1)" fill="#000" stroke="#000" stroke-width="1.6"/>
<path d="M202.2 170.2L206.7 171.1L212.2 171.9L217.1 171.4L221.2 174.1L226.1 176.5L229.7 178.0L226.1 177.2L220.5 175.2L215.0 173.6L208.0 172.3Z" fill="none" stroke="#000" stroke-width="1.8" stroke-linejoin="round"/>
<path d="M235.5 178.3L240.6 178.0L245.5 179.1L240.6 179.4Z" fill="none" stroke="#000" stroke-width="2.2" stroke-linejoin="round"/>
<path d="M264.2 193.6L267.7 193.1L270.8 194.1L270.5 196.3L268.0 196.9L265.6 195.5Z" fill="none" stroke="#000" stroke-width="1.6" stroke-linejoin="round"/>
<ellipse cx="309.3" cy="225.5" rx="1.3" ry="1.1" transform="rotate(0 309.3 225.5)" fill="#000" stroke="#000" stroke-width="1.6"/>
<ellipse cx="312.8" cy="227.0" rx="1.3" ry="1.0" transform="rotate(0 312.8 227.0)" fill="#000" stroke="#000" stroke-width="1.6"/>
<ellipse cx="306.9" cy="232.5" rx="0.9" ry="1.5" transform="rotate(20 306.9 232.5)" fill="#000" stroke="#000" stroke-width="1.6"/>
<path d="M317.7 232.0L321.1 227.4L326.7 224.4L332.9 223.0L335.4 224.1L330.1 225.5L325.3 227.8L321.1 230.6Z" fill="none" stroke="#000" stroke-width="1.7" stroke-linejoin="round"/>
<ellipse cx="523.3" cy="314.4" rx="2.6" ry="2.3" transform="rotate(30 523.3 314.4)" fill="none" stroke="#000" stroke-width="1.7"/>
<ellipse cx="525.5" cy="337.7" rx="1.0" ry="1.0" transform="rotate(0 525.5 337.7)" fill="#000" stroke="#000" stroke-width="1.5"/>
<path d="M62 352H934M660.3 132V1057" stroke="#8a8a8a" stroke-opacity="0.62" stroke-width="1.5" stroke-dasharray="1 1" fill="none"/>
<g fill="none" stroke="#1f3cff" stroke-width="1.2" stroke-linejoin="miter"><path d="M110.0 131.8L82.5 133.8L82.3 145.2M220.0 131.8L192.4 132.3L191.6 143.7M330.0 131.8L302.4 132.3L301.6 143.7M440.0 131.8L412.5 133.8L412.3 145.2M550.0 131.8L522.5 134.3L522.6 145.7M660.0 131.8L632.4 133.3L632.1 144.7M770.0 131.8L742.4 132.1L741.6 143.5M880.0 131.8L852.4 130.8L851.0 142.2M110.0 241.8L82.5 244.3L82.6 255.7M220.0 241.8L192.5 243.8L192.3 255.2M330.0 241.8L302.5 243.8L302.3 255.2M440.0 241.8L412.7 245.8L413.4 257.2M550.0 241.8L522.5 244.3L522.6 255.7M660.0 241.8L632.5 243.5L632.2 254.9M770.0 241.8L742.4 242.8L741.9 254.2M880.0 241.8L852.4 241.6L851.3 253.0M110.0 351.8L82.7 355.8L83.4 367.2M220.0 351.8L192.6 355.1L193.0 366.5M330.0 351.8L302.6 355.3L303.1 366.7M440.0 351.8L412.6 355.4L413.2 366.8M550.0 351.8L522.5 353.8L522.3 365.2M660.0 351.8L632.5 353.8L632.3 365.2M770.0 351.8L742.5 353.8L742.3 365.2M880.0 351.8L852.4 352.2L851.6 363.6M110.0 461.8L82.5 464.3L82.6 475.7M220.0 461.8L192.6 464.8L192.8 476.2M330.0 461.8L302.6 465.4L303.2 476.8M440.0 461.8L412.5 464.6L412.7 476.0M550.0 461.8L522.5 464.3L522.6 475.7M660.0 461.8L632.5 464.3L632.6 475.7M770.0 461.8L742.6 465.5L743.2 476.9M880.0 461.8L852.5 464.6L852.7 476.0M110.0 571.8L82.7 575.6L83.3 587.0M220.0 571.8L192.6 575.1L193.0 586.5M330.0 571.8L302.7 576.0L303.5 587.4M440.0 571.8L412.6 575.4L413.2 586.8M550.0 571.8L522.8 576.7L523.9 588.1M660.0 571.8L632.8 576.2L633.6 587.6M770.0 571.8L742.7 575.7L743.3 587.1M880.0 571.8L852.6 575.4L853.2 586.8M110.0 681.8L83.1 688.0L84.7 699.3M220.0 681.8L193.0 687.6L194.5 698.9M330.0 681.8L303.1 687.8L304.6 699.1M440.0 681.8L413.0 687.3L414.3 698.7M550.0 681.8L523.4 689.0L525.4 700.3M660.0 681.8L633.2 688.2L634.9 699.5M770.0 681.8L742.8 686.4L743.7 697.8M880.0 681.8L852.7 686.0L853.5 697.4M110.0 791.8L83.6 799.8L86.0 811.0M220.0 791.8L193.6 799.8L196.0 811.0M330.0 791.8L303.4 799.3L305.6 810.5M440.0 791.8L413.8 800.5L416.5 811.6M550.0 791.8L524.8 803.0L528.5 813.8M660.0 791.8L633.6 799.9L636.0 811.1M770.0 791.8L742.7 796.0L743.5 807.4M880.0 791.8L852.5 793.5L852.2 804.9M110.0 901.8L84.2 911.5L87.3 922.5M220.0 901.8L194.2 911.5L195.7 916.9M330.0 901.8L304.7 912.8L306.5 918.1M440.0 901.8L420.1 920.9L423.7 925.3M550.0 901.8L530.9 921.8L534.7 926.0M660.0 901.8L634.7 912.8L636.5 918.1M110.0 1011.8L82.5 1014.0L82.5 1019.6M220.0 1011.8L192.7 1016.0L193.1 1021.6M440.0 1011.8L449.0 1037.9L454.4 1036.5M880.0 1011.8L860.0 1030.8L863.5 1035.2"/><circle cx="770" cy="901.8" r="1.5"/><circle cx="880" cy="901.8" r="1.5"/><circle cx="330" cy="1011.8" r="1.5"/><circle cx="550" cy="1011.8" r="1.5"/><circle cx="660" cy="1011.8" r="1.5"/><circle cx="770" cy="1011.8" r="1.5"/></g>
<text x="932.5" y="1053" text-anchor="end" font-size="10.42">©Sub Bidang Prediksi Cuaca BMKG, 2026</text>
</g>
<rect x="62.5" y="132.5" width="871.1" height="924" fill="none" stroke="#000" stroke-width="3"/>
<text x="52.6" y="356.6" text-anchor="end" font-size="16.67">6°S</text>
<text x="661.8" y="1078.9" text-anchor="middle" font-size="16.67">107°E</text>
<text x="62" y="1101.3" font-size="17.45">Model: IFS 0.125</text>
<text x="933.5" y="1101.3" text-anchor="end" font-size="17.5">Sumber: CIPS BMKG</text>
</svg></body></html>
